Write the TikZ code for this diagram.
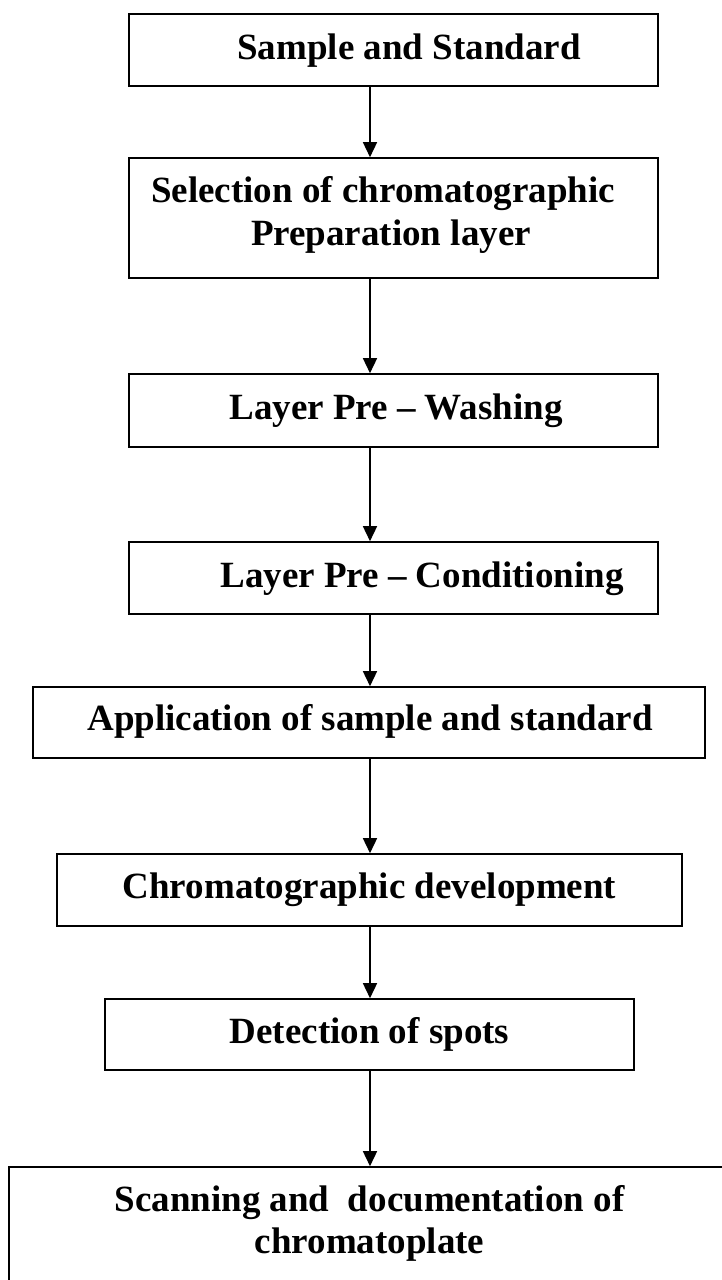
\documentclass[tikz,border=0pt]{standalone}
\usepackage{fontspec}
\setmainfont{Liberation Serif}
\usetikzlibrary{arrows.meta}
\begin{document}
\begin{tikzpicture}[x=1pt,y=-1pt,
  stepbox/.style={draw, line width=1.6pt, inner sep=0pt, fill=none},
  steptext/.style={anchor=base, inner sep=0pt, align=center, font=\fontsize{37}{43.5}\selectfont\bfseries},
  flow/.style={line width=1.5pt, -{Triangle[length=15pt,width=14pt]}}]
\fill[white] (0,0) rectangle (722,1280);
\useasboundingbox (0,0) rectangle (722,1280);
\coordinate (ax) at (370,0);
% boxes
\node[stepbox, minimum width=529pt, minimum height=72pt]  (b1) at (393.5,50) {};
\node[stepbox, minimum width=529pt, minimum height=120pt] (b2) at (393.5,218) {};
\node[stepbox, minimum width=529pt, minimum height=73pt]  (b3) at (393.5,410.5) {};
\node[stepbox, minimum width=529pt, minimum height=72pt]  (b4) at (393.5,578) {};
\node[stepbox, minimum width=672pt, minimum height=71pt]  (b5) at (369,722.5) {};
\node[stepbox, minimum width=625pt, minimum height=72pt]  (b6) at (369.5,890) {};
\node[stepbox, minimum width=529pt, minimum height=71pt]  (b7) at (369.5,1034.5) {};
\node[stepbox, minimum width=722pt, minimum height=133pt] (b8) at (370,1233.5) {};
% texts
\node[steptext] (t1) at (409,59.3) {Sample and Standard};
\node[steptext] (t2) at (383,245.7) {Selection of chromatographic\\\hspace*{16pt}Preparation layer};
\node[steptext] (t3) at (396,419) {Layer Pre – Washing};
\node[steptext] (t4) at (422,587) {Layer Pre – Conditioning};
\node[steptext] (t5) at (370,730) {Application of sample and standard};
\node[steptext] (t6) at (369.5,898) {Chromatographic development};
\node[steptext] (t7) at (369.5,1043) {Detection of spots};
\node[steptext, font=\fontsize{37}{41.6}\selectfont\bfseries] (t8) at (369.5,1253.3) {Scanning and\ \ documentation of\\chromatoplate};
% connectors
\draw[flow] (b1.south -| ax) -- (b2.north -| ax);
\draw[flow] (b2.south -| ax) -- (b3.north -| ax);
\draw[flow] (b3.south -| ax) -- (b4.north -| ax);
\draw[flow] (b4.south -| ax) -- (b5.north -| ax);
\draw[flow] (b5.south -| ax) -- (b6.north -| ax);
\draw[flow] (b6.south -| ax) -- (b7.north -| ax);
\draw[flow] (b7.south -| ax) -- (b8.north -| ax);
\end{tikzpicture}
\end{document}
